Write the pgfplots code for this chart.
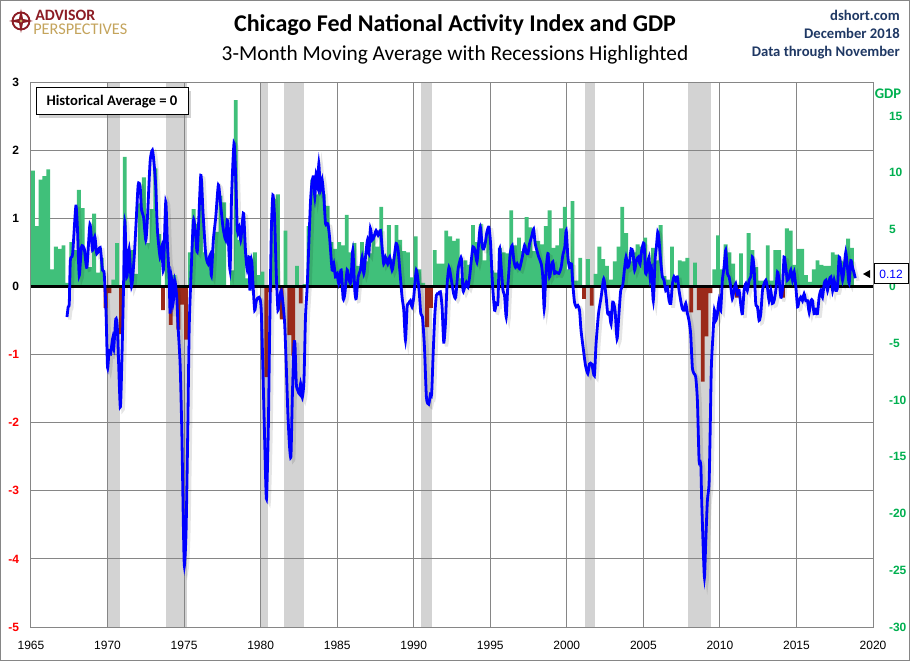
\documentclass[border=0pt]{standalone}
\usepackage{fontspec}
\setmainfont{Carlito}
\newfontfamily\tickfont{Liberation Sans}
\usepackage{pgfplots}
\pgfplotsset{compat=1.18}
\usepackage{pgfplotstable}
\usetikzlibrary{shadows}

\definecolor{gdpgreen}{RGB}{64,192,122}
\definecolor{gdpred}{RGB}{155,42,26}
\definecolor{tickgreen}{RGB}{0,176,80}
\definecolor{recgray}{RGB}{211,211,211}
\definecolor{gridgray}{RGB}{134,134,134}
\definecolor{navy}{RGB}{31,56,100}
\definecolor{apred}{RGB}{140,28,36}
\definecolor{apgold}{RGB}{196,164,92}

\pgfplotstableread[row sep=\\]{
x y\\
1965.125 10.2\\ 1965.375 5.3\\ 1965.625 9.4\\ 1965.875 9.7\\
1966.125 10.3\\ 1966.375 1.5\\ 1966.625 3.5\\ 1966.875 3.3\\
1967.125 3.6\\ 1967.375 0.3\\ 1967.625 3.9\\ 1967.875 3.2\\
1968.125 8.5\\ 1968.375 6.9\\ 1968.625 3.0\\ 1968.875 1.7\\
1969.125 6.4\\ 1969.375 1.2\\ 1969.625 2.5\\ 1969.875 -1.9\\
1970.125 -0.6\\ 1970.375 0.6\\ 1970.625 3.8\\ 1970.875 -4.2\\
1971.125 11.4\\ 1971.375 2.3\\ 1971.625 3.2\\ 1971.875 1.1\\
1972.125 7.3\\ 1972.375 9.6\\ 1972.625 3.8\\ 1972.875 6.8\\
1973.125 10.4\\ 1973.375 4.6\\ 1973.625 -2.1\\ 1973.875 3.9\\
1974.125 -3.4\\ 1974.375 1.0\\ 1974.625 -3.8\\ 1974.875 -1.6\\
1975.125 -4.7\\ 1975.375 3.0\\ 1975.625 6.8\\ 1975.875 5.5\\
1976.125 9.3\\ 1976.375 3.0\\ 1976.625 2.2\\ 1976.875 2.9\\
1977.125 4.8\\ 1977.375 8.0\\ 1977.625 7.4\\ 1977.875 0.1\\
1978.125 1.4\\ 1978.375 16.4\\ 1978.625 4.1\\ 1978.875 5.4\\
1979.125 0.7\\ 1979.375 0.4\\ 1979.625 3.0\\ 1979.875 1.0\\
1980.125 1.3\\ 1980.375 -8.0\\ 1980.625 -0.5\\ 1980.875 7.7\\
1981.125 8.1\\ 1981.375 -2.9\\ 1981.625 4.9\\ 1981.875 -4.3\\
1982.125 -6.1\\ 1982.375 1.8\\ 1982.625 -1.5\\ 1982.875 0.2\\
1983.125 5.3\\ 1983.375 9.4\\ 1983.625 8.1\\ 1983.875 8.5\\
1984.125 8.1\\ 1984.375 7.1\\ 1984.625 3.9\\ 1984.875 3.3\\
1985.125 3.9\\ 1985.375 3.6\\ 1985.625 6.3\\ 1985.875 3.0\\
1986.125 3.8\\ 1986.375 1.8\\ 1986.625 3.9\\ 1986.875 2.2\\
1987.125 2.9\\ 1987.375 4.6\\ 1987.625 3.5\\ 1987.875 7.0\\
1988.125 2.1\\ 1988.375 5.4\\ 1988.625 2.4\\ 1988.875 5.4\\
1989.125 4.1\\ 1989.375 3.1\\ 1989.625 3.0\\ 1989.875 0.8\\
1990.125 4.4\\ 1990.375 1.5\\ 1990.625 0.3\\ 1990.875 -3.6\\
1991.125 -1.9\\ 1991.375 3.2\\ 1991.625 2.0\\ 1991.875 2.0\\
1992.125 4.9\\ 1992.375 4.4\\ 1992.625 4.0\\ 1992.875 4.2\\
1993.125 0.7\\ 1993.375 2.3\\ 1993.625 1.9\\ 1993.875 5.4\\
1994.125 3.9\\ 1994.375 5.5\\ 1994.625 2.3\\ 1994.875 4.6\\
1995.125 1.4\\ 1995.375 1.2\\ 1995.625 3.4\\ 1995.875 3.0\\
1996.125 2.9\\ 1996.375 6.7\\ 1996.625 3.6\\ 1996.875 4.3\\
1997.125 3.1\\ 1997.375 6.1\\ 1997.625 5.2\\ 1997.875 3.1\\
1998.125 4.0\\ 1998.375 3.7\\ 1998.625 5.3\\ 1998.875 6.7\\
1999.125 3.4\\ 1999.375 3.6\\ 1999.625 5.1\\ 1999.875 7.0\\
2000.125 1.5\\ 2000.375 7.5\\ 2000.625 0.5\\ 2000.875 2.5\\
2001.125 -1.1\\ 2001.375 2.4\\ 2001.625 -1.7\\ 2001.875 1.1\\
2002.125 3.5\\ 2002.375 2.4\\ 2002.625 1.8\\ 2002.875 0.6\\
2003.125 2.2\\ 2003.375 3.5\\ 2003.625 7.0\\ 2003.875 4.7\\
2004.125 2.2\\ 2004.375 3.0\\ 2004.625 3.7\\ 2004.875 3.5\\
2005.125 4.3\\ 2005.375 2.1\\ 2005.625 3.4\\ 2005.875 2.3\\
2006.125 5.4\\ 2006.375 0.9\\ 2006.625 0.6\\ 2006.875 3.5\\
2007.125 0.9\\ 2007.375 2.3\\ 2007.625 2.2\\ 2007.875 2.5\\
2008.125 -2.3\\ 2008.375 2.1\\ 2008.625 -2.1\\ 2008.875 -8.4\\
2009.125 -4.4\\ 2009.375 -0.6\\ 2009.625 1.5\\ 2009.875 4.5\\
2010.125 1.5\\ 2010.375 3.7\\ 2010.625 3.0\\ 2010.875 2.0\\
2011.125 -1.0\\ 2011.375 2.9\\ 2011.625 -0.1\\ 2011.875 4.7\\
2012.125 3.2\\ 2012.375 1.7\\ 2012.625 0.5\\ 2012.875 0.5\\
2013.125 3.6\\ 2013.375 0.5\\ 2013.625 3.2\\ 2013.875 3.2\\
2014.125 -1.0\\ 2014.375 5.1\\ 2014.625 4.9\\ 2014.875 1.9\\
2015.125 3.3\\ 2015.375 3.3\\ 2015.625 1.0\\ 2015.875 0.4\\
2016.125 1.5\\ 2016.375 2.3\\ 2016.625 1.9\\ 2016.875 1.8\\
2017.125 1.8\\ 2017.375 3.0\\ 2017.625 2.8\\ 2017.875 2.3\\
2018.125 2.2\\ 2018.375 4.2\\ 2018.625 3.4\\
}\gdp

\pgfplotstableread[row sep=\\]{
x y\\
1967.35 -0.45\\ 1967.43 -0.30\\ 1967.50 -0.25\\ 1967.57 0.38\\ 1967.72 0.48\\ 1967.93 1.18\\
1968.04 0.82\\ 1968.15 0.16\\ 1968.30 0.58\\ 1968.48 0.55\\ 1968.65 0.28\\ 1968.85 0.91\\
1969.02 0.53\\ 1969.17 0.73\\ 1969.30 0.48\\ 1969.52 0.57\\ 1969.67 0.24\\ 1969.78 0.19\\
1969.90 -0.38\\ 1970.00 -1.19\\ 1970.10 -0.94\\ 1970.20 -0.99\\ 1970.33 -0.77\\ 1970.40 -0.92\\
1970.54 -0.48\\ 1970.65 -0.65\\ 1970.83 -1.77\\ 1970.93 -1.14\\ 1971.04 -0.06\\ 1971.13 0.95\\
1971.26 0.14\\ 1971.41 0.55\\ 1971.57 0.00\\ 1971.74 0.43\\ 1971.85 0.87\\ 1972.00 1.49\\
1972.13 1.46\\ 1972.22 1.12\\ 1972.35 1.02\\ 1972.50 0.68\\ 1972.61 1.02\\ 1972.78 1.83\\
1972.93 2.00\\ 1973.04 1.80\\ 1973.15 1.46\\ 1973.26 0.82\\ 1973.43 0.43\\ 1973.54 0.58\\
1973.65 0.24\\ 1973.80 1.24\\ 1973.91 0.63\\ 1974.02 0.14\\ 1974.09 -0.40\\ 1974.17 0.14\\
1974.28 -0.25\\ 1974.39 0.09\\ 1974.52 -0.16\\ 1974.61 -0.60\\ 1974.74 -1.14\\ 1974.85 -2.12\\
1974.96 -3.59\\ 1975.02 -4.10\\ 1975.13 -3.59\\ 1975.24 -2.12\\ 1975.33 -0.65\\ 1975.43 0.04\\
1975.61 0.97\\ 1975.76 0.73\\ 1975.87 0.53\\ 1976.09 1.63\\ 1976.24 1.07\\ 1976.41 0.48\\
1976.57 0.33\\ 1976.70 0.46\\ 1976.78 0.16\\ 1976.91 0.68\\ 1977.07 1.02\\ 1977.24 1.49\\
1977.39 1.19\\ 1977.54 0.87\\ 1977.72 0.68\\ 1977.83 0.97\\ 1978.00 0.24\\ 1978.10 1.31\\
1978.26 2.10\\ 1978.37 1.61\\ 1978.48 0.82\\ 1978.59 0.87\\ 1978.70 0.68\\ 1978.80 0.92\\
1978.89 1.07\\ 1979.02 0.48\\ 1979.13 0.24\\ 1979.24 0.43\\ 1979.30 -0.06\\ 1979.41 0.38\\
1979.50 0.04\\ 1979.61 -0.35\\ 1979.72 -0.21\\ 1979.89 -0.16\\ 1980.04 -0.35\\ 1980.22 -1.87\\
1980.33 -2.85\\ 1980.39 -3.10\\ 1980.50 -2.12\\ 1980.59 -0.65\\ 1980.70 0.82\\ 1980.80 1.34\\
1980.91 1.02\\ 1981.02 0.19\\ 1981.13 -0.35\\ 1981.24 -0.16\\ 1981.35 -0.06\\ 1981.46 -0.25\\
1981.57 -0.55\\ 1981.67 -1.14\\ 1981.78 -1.87\\ 1981.89 -2.36\\ 1981.98 -2.49\\ 1982.07 -1.63\\
1982.17 -0.89\\ 1982.24 -0.84\\ 1982.33 -1.43\\ 1982.43 -1.53\\ 1982.54 -1.58\\ 1982.61 -1.43\\
1982.72 -1.63\\ 1982.83 -1.38\\ 1982.93 -0.45\\ 1983.04 -0.01\\ 1983.15 0.63\\ 1983.26 1.26\\
1983.37 1.56\\ 1983.48 1.61\\ 1983.54 1.31\\ 1983.63 1.66\\ 1983.74 1.44\\ 1983.80 1.80\\
1983.91 1.41\\ 1984.02 1.56\\ 1984.13 1.31\\ 1984.24 0.92\\ 1984.39 0.92\\ 1984.50 0.73\\
1984.67 0.24\\ 1984.78 0.33\\ 1984.89 0.14\\ 1985.00 0.19\\ 1985.10 0.04\\ 1985.26 0.24\\
1985.39 -0.18\\ 1985.50 -0.11\\ 1985.65 0.24\\ 1985.76 0.11\\ 1985.89 0.06\\ 1986.02 0.53\\
1986.15 -0.06\\ 1986.24 -0.18\\ 1986.37 0.14\\ 1986.52 0.24\\ 1986.63 0.43\\ 1986.74 0.19\\
1986.85 0.43\\ 1986.98 0.68\\ 1987.07 0.48\\ 1987.17 0.85\\ 1987.28 0.68\\ 1987.41 0.73\\
1987.54 0.82\\ 1987.67 0.75\\ 1987.83 0.82\\ 1987.93 0.58\\ 1988.04 0.33\\ 1988.15 0.43\\
1988.30 0.33\\ 1988.43 0.43\\ 1988.59 0.24\\ 1988.70 0.38\\ 1988.85 0.63\\ 1988.98 0.53\\
1989.09 0.24\\ 1989.24 -0.16\\ 1989.35 -0.35\\ 1989.46 -0.79\\ 1989.57 -0.30\\ 1989.67 -0.25\\
1989.78 -0.21\\ 1989.89 -0.30\\ 1990.00 -0.16\\ 1990.17 0.24\\ 1990.35 -0.06\\ 1990.46 -0.40\\
1990.57 -0.45\\ 1990.70 -0.89\\ 1990.83 -1.63\\ 1990.98 -1.73\\ 1991.09 -1.58\\ 1991.17 -1.58\\
1991.26 -1.04\\ 1991.37 -0.45\\ 1991.48 -0.13\\ 1991.61 -0.11\\ 1991.74 -0.08\\ 1991.85 -0.30\\
1991.96 -0.82\\ 1992.07 -0.55\\ 1992.17 -0.01\\ 1992.30 0.28\\ 1992.46 0.09\\ 1992.61 -0.11\\
1992.74 -0.16\\ 1992.89 0.24\\ 1993.00 0.36\\ 1993.11 0.41\\ 1993.22 -0.06\\ 1993.33 -0.01\\
1993.43 0.06\\ 1993.54 -0.01\\ 1993.65 0.14\\ 1993.76 0.38\\ 1993.87 0.58\\ 1994.00 0.53\\
1994.13 0.36\\ 1994.24 0.63\\ 1994.35 0.87\\ 1994.48 0.58\\ 1994.57 0.55\\ 1994.67 0.63\\
1994.78 0.80\\ 1994.91 0.87\\ 1995.02 0.63\\ 1995.13 0.09\\ 1995.28 -0.35\\ 1995.39 -0.25\\
1995.50 -0.23\\ 1995.61 0.55\\ 1995.72 0.26\\ 1995.83 -0.06\\ 1995.93 -0.13\\ 1996.04 -0.45\\
1996.13 -0.06\\ 1996.22 0.24\\ 1996.30 0.48\\ 1996.43 0.60\\ 1996.54 0.38\\ 1996.65 0.28\\
1996.76 0.33\\ 1996.91 0.26\\ 1997.09 0.43\\ 1997.24 0.60\\ 1997.35 0.50\\ 1997.46 0.48\\
1997.57 0.63\\ 1997.70 0.73\\ 1997.83 0.84\\ 1997.93 0.63\\ 1998.04 0.53\\ 1998.17 0.43\\
1998.33 0.33\\ 1998.43 0.14\\ 1998.52 -0.33\\ 1998.61 0.09\\ 1998.70 0.38\\ 1998.78 0.48\\
1998.87 0.14\\ 1998.98 0.28\\ 1999.09 0.36\\ 1999.20 0.19\\ 1999.30 0.21\\ 1999.48 0.19\\
1999.63 0.28\\ 1999.74 0.46\\ 1999.87 0.58\\ 1999.96 0.82\\ 2000.07 0.43\\ 2000.17 0.28\\
2000.30 0.33\\ 2000.39 0.04\\ 2000.50 -0.23\\ 2000.61 -0.30\\ 2000.72 -0.28\\ 2000.83 -0.35\\
2000.93 -0.65\\ 2001.09 -0.94\\ 2001.22 -1.16\\ 2001.37 -1.28\\ 2001.48 -1.14\\ 2001.63 -1.14\\
2001.80 -1.31\\ 2001.91 -0.84\\ 2002.07 -0.40\\ 2002.24 -0.16\\ 2002.41 0.11\\ 2002.57 -0.16\\
2002.67 -0.40\\ 2002.78 -0.38\\ 2002.89 -0.55\\ 2003.00 -0.23\\ 2003.15 -0.35\\ 2003.28 -0.77\\
2003.39 -0.45\\ 2003.52 -0.06\\ 2003.65 0.01\\ 2003.76 0.24\\ 2003.87 0.43\\ 2003.98 0.28\\
2004.09 0.35\\ 2004.20 0.55\\ 2004.32 0.50\\ 2004.43 0.24\\ 2004.54 0.38\\ 2004.67 0.43\\
2004.78 0.33\\ 2004.89 0.53\\ 2005.04 0.63\\ 2005.15 0.19\\ 2005.26 0.28\\ 2005.37 0.43\\
2005.44 0.14\\ 2005.52 0.28\\ 2005.65 -0.21\\ 2005.76 0.38\\ 2005.85 0.58\\ 2005.94 0.80\\
2006.02 0.68\\ 2006.13 0.38\\ 2006.24 0.14\\ 2006.35 0.09\\ 2006.46 -0.06\\ 2006.57 -0.01\\
2006.68 -0.21\\ 2006.79 -0.25\\ 2006.90 0.04\\ 2007.00 0.14\\ 2007.11 0.09\\ 2007.22 0.14\\
2007.33 -0.06\\ 2007.44 -0.21\\ 2007.55 -0.33\\ 2007.66 -0.35\\ 2007.77 -0.25\\ 2007.88 -0.40\\
2007.98 -0.50\\ 2008.09 -0.70\\ 2008.20 -1.19\\ 2008.31 -1.28\\ 2008.42 -1.33\\ 2008.53 -1.68\\
2008.64 -2.56\\ 2008.75 -2.61\\ 2008.81 -3.15\\ 2008.90 -3.78\\ 2008.99 -4.27\\ 2009.07 -3.78\\
2009.18 -3.15\\ 2009.29 -2.90\\ 2009.36 -2.17\\ 2009.44 -1.19\\ 2009.55 -0.70\\ 2009.64 -0.35\\
2009.73 -0.50\\ 2009.84 -0.40\\ 2009.94 -0.21\\ 2010.05 -0.35\\ 2010.16 0.09\\ 2010.27 0.28\\
2010.38 0.53\\ 2010.49 0.19\\ 2010.60 0.14\\ 2010.71 -0.01\\ 2010.81 -0.18\\ 2010.92 -0.06\\
2011.03 0.04\\ 2011.14 -0.11\\ 2011.25 -0.06\\ 2011.38 -0.30\\ 2011.47 -0.40\\ 2011.58 -0.06\\
2011.69 0.04\\ 2011.79 -0.06\\ 2011.91 0.09\\ 2012.02 0.14\\ 2012.12 0.43\\ 2012.23 0.28\\
2012.34 -0.25\\ 2012.45 -0.30\\ 2012.56 -0.50\\ 2012.67 -0.40\\ 2012.78 -0.06\\ 2012.89 0.04\\
2013.00 0.09\\ 2013.10 -0.01\\ 2013.21 -0.21\\ 2013.32 -0.06\\ 2013.43 -0.25\\ 2013.54 -0.21\\
2013.65 -0.06\\ 2013.76 0.21\\ 2013.87 0.09\\ 2013.98 -0.16\\ 2014.08 -0.06\\ 2014.19 0.43\\
2014.30 0.28\\ 2014.41 0.09\\ 2014.52 0.14\\ 2014.63 0.24\\ 2014.74 0.09\\ 2014.85 0.21\\
2014.96 -0.01\\ 2015.07 -0.30\\ 2015.17 -0.21\\ 2015.28 -0.16\\ 2015.39 -0.21\\ 2015.50 -0.11\\
2015.61 -0.21\\ 2015.72 -0.21\\ 2015.83 -0.38\\ 2015.94 -0.21\\ 2016.05 -0.21\\ 2016.15 -0.40\\
2016.26 -0.35\\ 2016.37 -0.40\\ 2016.48 -0.16\\ 2016.59 -0.06\\ 2016.70 -0.16\\ 2016.81 0.04\\
2016.92 0.09\\ 2017.03 -0.06\\ 2017.14 0.09\\ 2017.25 0.14\\ 2017.36 -0.06\\ 2017.46 0.09\\
2017.57 -0.06\\ 2017.68 -0.01\\ 2017.79 0.43\\ 2017.90 0.28\\ 2018.01 0.09\\ 2018.12 0.28\\
2018.22 0.50\\ 2018.33 0.28\\ 2018.44 0.04\\ 2018.55 0.38\\ 2018.66 0.28\\ 2018.77 0.19\\
2018.84 0.12\\
}\cfnai

\pgfplotsset{
  base/.style={at={(23.25pt,25.5pt)}, anchor=south west, scale only axis,
    width=631.5pt, height=408.75pt, xmin=1965, xmax=2020},
}

\begin{document}
\begin{tikzpicture}
\useasboundingbox (0,0) rectangle (682.5pt,495.75pt);
\fill[white] (0,0) rectangle (682.5pt,495.75pt);

% Axis A: recession bands, grid, left and bottom ticks
\begin{axis}[base, ymin=-5, ymax=3, axis on top,
  xtick={1965,1970,...,2020},
  xticklabels={1965,1970,1975,1980,1985,1990,1995,2000,2005,2010,2015,2020},
  ytick={-5,-4,...,3},
  yticklabels={\textcolor{red}{-5},\textcolor{red}{-4},\textcolor{red}{-3},\textcolor{red}{-2},\textcolor{red}{-1},0,1,2,3},
  grid=major, major grid style={gridgray, line width=0.75pt},
  axis line style={gridgray, line width=0.75pt},
  major tick length=0pt,
  xticklabel style={font=\tickfont\fontsize{9}{10}\selectfont, yshift=-7pt},
  yticklabel style={font=\tickfont\bfseries\fontsize{9}{10}\selectfont, xshift=-5.5pt},
]
\addplot[fill=recgray, draw=none] coordinates {(1970.00,-6) (1970.00,4) (1970.80,4) (1970.80,-6)};
\addplot[fill=recgray, draw=none] coordinates {(1973.83,-6) (1973.83,4) (1975.17,4) (1975.17,-6)};
\addplot[fill=recgray, draw=none] coordinates {(1980.00,-6) (1980.00,4) (1980.50,4) (1980.50,-6)};
\addplot[fill=recgray, draw=none] coordinates {(1981.50,-6) (1981.50,4) (1982.83,4) (1982.83,-6)};
\addplot[fill=recgray, draw=none] coordinates {(1990.50,-6) (1990.50,4) (1991.17,4) (1991.17,-6)};
\addplot[fill=recgray, draw=none] coordinates {(2001.17,-6) (2001.17,4) (2001.83,4) (2001.83,-6)};
\addplot[fill=recgray, draw=none] coordinates {(2007.92,-6) (2007.92,4) (2009.42,4) (2009.42,-6)};
\end{axis}

% Axis B: GDP bars, right ticks
\begin{axis}[base, ymin=-30, ymax=18, hide x axis,
  axis y line*=right, y axis line style={gridgray, line width=0.75pt},
  ytick={-30,-25,...,15},
  yticklabels={-30,-25,-20,-15,-10,-5,0,5,10,15},
  major tick length=0pt,
  yticklabel style={font=\tickfont\bfseries\fontsize{9}{10}\selectfont, text=tickgreen, anchor=west, xshift=8.5pt},
]
\addplot[ybar, bar width=0.25, bar shift=0pt, fill=gdpgreen, draw=none,
  restrict y to domain=0:100] table[x=x,y=y] {\gdp};
\addplot[ybar, bar width=0.25, bar shift=0pt, fill=gdpred, draw=none,
  restrict y to domain=-100:0] table[x=x,y=y] {\gdp};
\end{axis}

% Axis C: zero line and CFNAI-MA3
\begin{axis}[base, ymin=-5, ymax=3, hide axis]
\addplot[black, line width=2.25pt] coordinates {(1965,0) (2020,0)};
\addplot[black, opacity=0.10, line width=2.6pt, smooth, tension=0.4, xshift=2pt, yshift=-2pt] table[x=x,y=y] {\cfnai};
\addplot[blue, line width=2.1pt, smooth, tension=0.4] table[x=x,y=y] {\cfnai};
\end{axis}

\begin{scope}[shift={(0pt,495.75pt)}, x=0.75pt, y=-0.75pt]
  % logo
  \draw[apred, line width=1.4pt] (21,21) circle (8.5);
  \fill[apred] (21,9) -- (23,19) -- (33,21) -- (23,23) -- (21,33) -- (19,23) -- (9,21) -- (19,19) -- cycle;
  \fill[apgold] (21,21) circle (1.6);
  \node[anchor=base west, inner sep=0, text=apred] at (35,20.3)
    {\resizebox{60\dimexpr0.75pt\relax}{!}{\bfseries\fontsize{10}{11}\selectfont ADVISOR}};
  \node[anchor=base west, inner sep=0, text=apgold] at (33,34.6)
    {\resizebox{94\dimexpr0.75pt\relax}{!}{\fontsize{9.8}{11}\selectfont PERSPECTIVES}};
  % titles
  \node[anchor=base, inner sep=0, font=\bfseries\fontsize{18}{20}\selectfont] at (455,31.5) {Chicago Fed National Activity Index and GDP};
  \node[anchor=base, inner sep=0, font=\fontsize{16}{18}\selectfont] at (455,60.5) {3-Month Moving Average with Recessions Highlighted};
  % right header
  \node[anchor=base east, inner sep=0, text=navy, font=\bfseries\fontsize{11}{12}\selectfont] at (900,20.5) {dshort.com};
  \node[anchor=base east, inner sep=0, text=navy, font=\bfseries\fontsize{11}{12}\selectfont] at (900,39) {December 2018};
  \node[anchor=base east, inner sep=0, text=navy, font=\bfseries\fontsize{11}{12}\selectfont] at (900,57) {Data through November};
  % GDP axis title
  \node[anchor=base west, inner sep=0, text=tickgreen, font=\bfseries\fontsize{11}{12}\selectfont] at (874.5,99) {GDP};
  % Historical average box
  \node[draw=black, fill=white, line width=0.75pt, minimum width=152*0.75pt, minimum height=27*0.75pt,
        drop shadow={shadow xshift=2.5pt, shadow yshift=-2.5pt, opacity=0.35},
        font=\bfseries\fontsize{11}{12}\selectfont] at (112,101.5) {Historical Average = 0};
  % last value label
  \fill[black] (863,274) -- (870,270) -- (870,278) -- cycle;
  \node[draw=black, fill=white, line width=0.75pt, minimum width=34*0.75pt, minimum height=20*0.75pt,
        inner sep=1pt, text=blue, font=\tickfont\fontsize{9}{10}\selectfont] at (891,274) {0.12};
  % frame
  \draw[gridgray, line width=0.75pt] (0.5,0.5) rectangle (909.5,660.5);
\end{scope}
\end{tikzpicture}
\end{document}
